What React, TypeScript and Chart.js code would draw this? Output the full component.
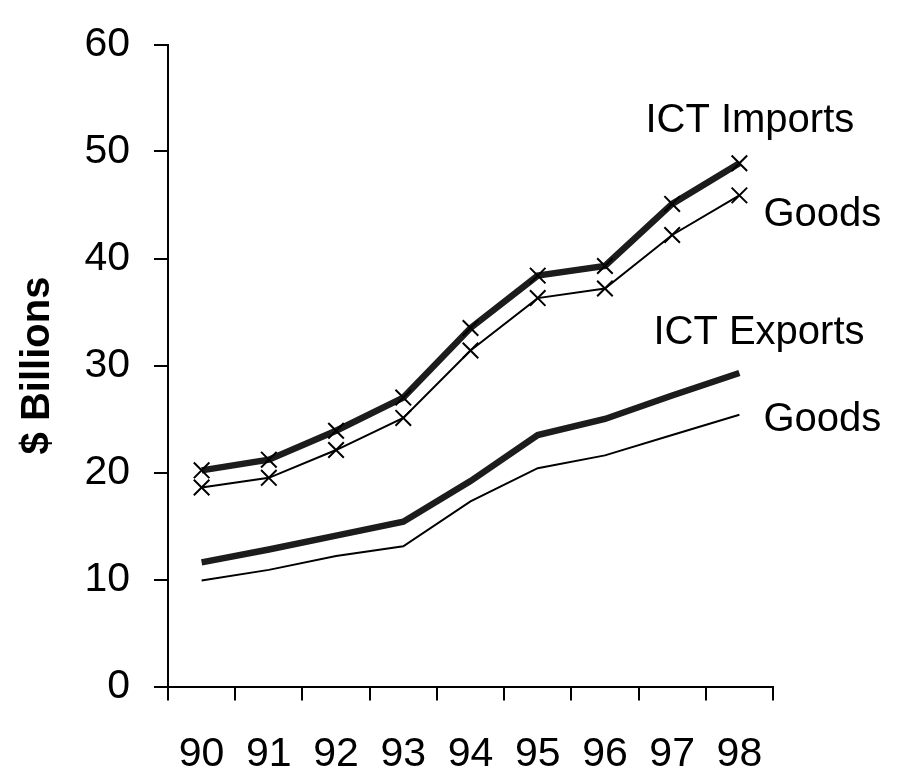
import React, { useEffect, useRef } from "react";
import { Chart, registerables } from "chart.js";

Chart.register(...registerables);

// ---- data ----
const years = ["90", "91", "92", "93", "94", "95", "96", "97", "98"];
const ictImports = [20.2, 21.2, 23.9, 27.0, 33.5, 38.4, 39.3, 45.1, 48.9];
const goodsImports = [18.6, 19.5, 22.1, 25.1, 31.4, 36.3, 37.2, 42.2, 45.9];
const ictExports = [11.6, 12.8, 14.1, 15.4, 19.2, 23.5, 25.0, 27.2, 29.3];
const goodsExports = [9.9, 10.9, 12.2, 13.1, 17.3, 20.4, 21.6, 23.5, 25.4];
const yTickValues = [0, 10, 20, 30, 40, 50, 60];
const seriesNames = ["ICT Imports", "Goods", "ICT Exports", "Goods"];
const yAxisTitle = "$ Billions";

// ---- layout of the in-chart labels (offset from last category, baseline in value units) ----
const labelLayout = [
  { dx: -94, yValue: 51.8 },
  { dx: 24, yValue: 43.0 },
  { dx: -86, yValue: 32.0 },
  { dx: 24, yValue: 23.9 },
];

const FONT = "'Liberation Sans', Arial, Helvetica, sans-serif";

const seriesLabelPlugin = {
  id: "seriesLabels",
  afterDatasetsDraw(chart: any) {
    const { ctx, scales } = chart;
    const xs = scales.x;
    const ys = scales.y;
    const xLast = xs.getPixelForValue(years.length - 1);
    ctx.save();
    ctx.fillStyle = "#000";
    ctx.font = `40px ${FONT}`;
    ctx.textAlign = "left";
    ctx.textBaseline = "alphabetic";
    seriesNames.forEach((name, i) => {
      const l = labelLayout[i];
      ctx.fillText(name, xLast + l.dx, ys.getPixelForValue(l.yValue));
    });
    ctx.restore();
  },
};

export default function App() {
  const canvasRef = useRef<HTMLCanvasElement | null>(null);

  useEffect(() => {
    if (!canvasRef.current) return;
    const chart = new Chart(canvasRef.current, {
      type: "line",
      data: {
        labels: years,
        datasets: [
          {
            label: seriesNames[0],
            data: ictImports,
            borderColor: "#1c1c1c",
            borderWidth: 6.5,
            pointStyle: "crossRot",
            pointRadius: 11,
            pointBorderWidth: 2,
            pointBorderColor: "#000",
            pointBackgroundColor: "rgba(0,0,0,0)",
            tension: 0,
          },
          {
            label: seriesNames[1],
            data: goodsImports,
            borderColor: "#000",
            borderWidth: 2,
            pointStyle: "crossRot",
            pointRadius: 11,
            pointBorderWidth: 2,
            pointBorderColor: "#000",
            pointBackgroundColor: "rgba(0,0,0,0)",
            tension: 0,
          },
          {
            label: seriesNames[2],
            data: ictExports,
            borderColor: "#1c1c1c",
            borderWidth: 6.5,
            pointRadius: 0,
            tension: 0,
          },
          {
            label: seriesNames[3],
            data: goodsExports,
            borderColor: "#000",
            borderWidth: 2,
            pointRadius: 0,
            tension: 0,
          },
        ],
      },
      options: {
        animation: false,
        responsive: true,
        maintainAspectRatio: false,
        layout: { padding: { left: 0, right: 130, top: 31, bottom: 0 } },
        plugins: {
          legend: { display: false },
          tooltip: { enabled: false },
        },
        scales: {
          x: {
            type: "category",
            offset: true,
            grid: {
              offset: true,
              drawOnChartArea: false,
              drawTicks: true,
              tickLength: 14,
              color: "#000",
              lineWidth: 2,
            },
            border: { display: true, color: "#000", width: 2 },
            ticks: {
              color: "#000",
              font: { size: 41, family: FONT, lineHeight: 1 },
              padding: 34,
              maxRotation: 0,
              autoSkip: false,
            },
            afterFit: (s: any) => {
              s.height = 86.5;
            },
          },
          y: {
            min: 0,
            max: 60,
            afterBuildTicks: (s: any) => {
              s.ticks = yTickValues.map((v) => ({ value: v }));
            },
            ticks: {
              color: "#000",
              font: { size: 41, family: FONT, lineHeight: 1 },
              padding: 24,
            },
            grid: {
              drawOnChartArea: false,
              drawTicks: true,
              tickLength: 14,
              color: "#000",
              lineWidth: 2,
            },
            border: { display: true, color: "#000", width: 2 },
            title: {
              display: true,
              text: yAxisTitle,
              color: "#000",
              font: { size: 40, weight: "bold", family: FONT, lineHeight: 1 },
              padding: { top: 18, bottom: 0 },
            },
            afterFit: (s: any) => {
              s.width = 168;
            },
          },
        },
      },
      plugins: [seriesLabelPlugin],
    });
    return () => chart.destroy();
  }, []);

  return (
    <div style={{ position: "fixed", left: 0, top: 0, width: 903, height: 773, background: "#fff" }}>
      <canvas ref={canvasRef} />
    </div>
  );
}
